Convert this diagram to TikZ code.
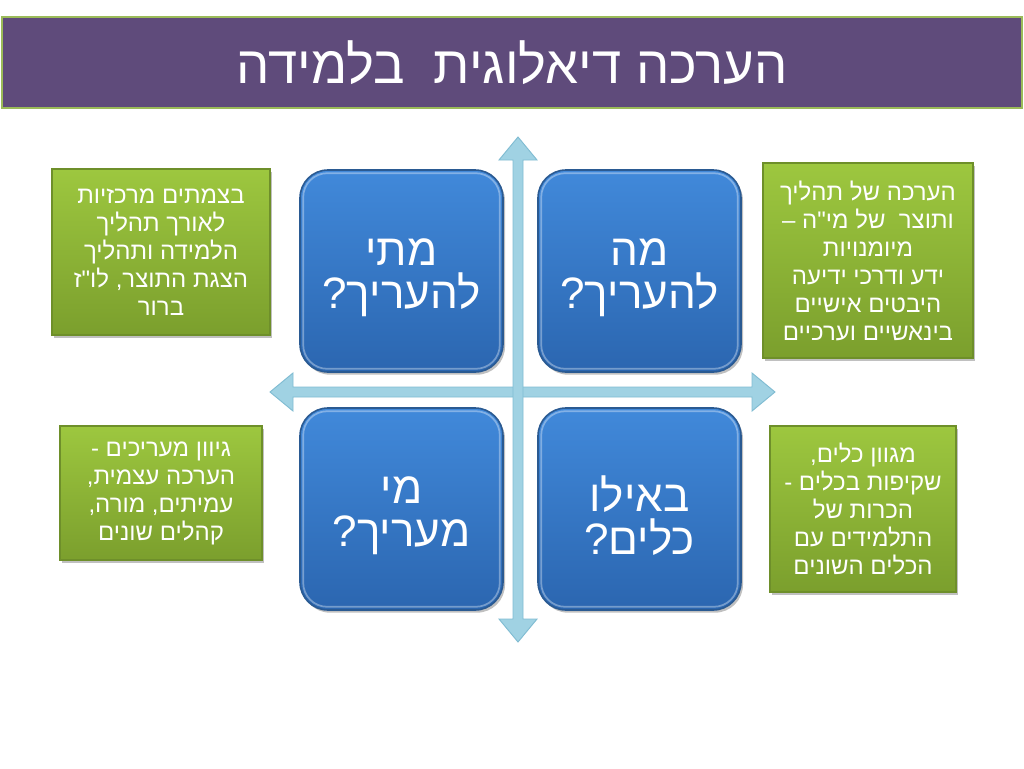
\documentclass[tikz,border=0pt]{standalone}
\usepackage{fontspec}
\setmainfont{Liberation Sans}
\newfontfamily\heb[Script=Hebrew]{Liberation Sans}
\TeXXeTstate=1
\usetikzlibrary{shadows}
\newcommand{\rl}[1]{\beginR #1\endR}
\definecolor{titlepurple}{HTML}{5F4B7B}
\definecolor{titlerim}{HTML}{9BBB59}
\definecolor{bluetop}{HTML}{4189DA}
\definecolor{bluebot}{HTML}{2B66B0}
\definecolor{bluerim}{HTML}{2A5A92}
\definecolor{greentop}{HTML}{9DC73F}
\definecolor{greenbot}{HTML}{7B9F2D}
\definecolor{greenrim}{HTML}{6E8F2A}
\definecolor{axisfill}{HTML}{A0D2E3}
\definecolor{axisrim}{HTML}{80BCD2}
\tikzset{
  titlebox/.style={draw=titlerim, line width=2.2pt, fill=titlepurple, text=white,
    minimum width=765pt, minimum height=68.25pt, inner sep=0pt,
    font=\heb\fontsize{39.5pt}{42pt}\selectfont},
  qbox/.style={draw=bluerim, line width=1.2pt, top color=bluetop, bottom color=bluebot,
    rounded corners=21pt, minimum width=152.25pt, minimum height=151.5pt, inner sep=0pt,
    drop shadow={shadow xshift=1.5pt, shadow yshift=-2pt, opacity=0.35, fill=black!70}},
  qtext/.style={inner sep=0pt, text=white, align=center,
    font=\heb\fontsize{33pt}{32.5pt}\selectfont},
  gloss/.style={draw=white, draw opacity=0.35, line width=1.3pt, rounded corners=18pt},
  notebox/.style={draw=greenrim, line width=0.8pt, top color=greentop, bottom color=greenbot,
    inner sep=0pt, text=white, align=center, font=\heb\fontsize{18pt}{21pt}\selectfont,
    drop shadow={shadow xshift=1.5pt, shadow yshift=-2pt, opacity=0.35, fill=black!70}},
  axis/.style={fill=axisfill, draw=axisrim, line width=0.7pt, line join=miter}
}
\begin{document}
\begin{tikzpicture}[x=0.75pt,y=-0.75pt]
\useasboundingbox[fill=white] (0,0) rectangle (1024,768);
% title
\node[titlebox] (title) at (512,62.5) {\rl{הערכה דיאלוגית~~בלמידה}};
% axes
\draw[axis] (270,392) -- (293,373) -- (293,387) -- (752,387) -- (752,373) -- (775,392)
  -- (752,411) -- (752,397) -- (293,397) -- (293,411) -- cycle;
\draw[axis] (518,137) -- (537,160) -- (523,160) -- (523,619) -- (537,619) -- (518,642)
  -- (499,619) -- (513,619) -- (513,160) -- (499,160) -- cycle;
% question boxes
\node[qbox] (when) at (401.5,271) {};
\node[qbox] (what) at (639.5,271) {};
\node[qbox] (who) at (401.5,509) {};
\node[qbox] (tools) at (639.5,509) {};
\foreach \b in {when,what,who,tools}
  \draw[gloss] ([shift={(4,4)}]\b.north west) rectangle ([shift={(-4,-4)}]\b.south east);
\node[qtext] (whentext) at ([yshift=-5pt]when.center) {\rl{מתי}\\\rl{להעריך?}};
\node[qtext] (whattext) at ([yshift=-5pt]what.center) {\rl{מה}\\\rl{להעריך?}};
\node[qtext] (whotext) at ([yshift=-5pt]who.center) {\rl{מי}\\\rl{מעריך?}};
\node[qtext] (toolstext) at ([yshift=-5pt]tools.center) {\rl{באילו}\\\rl{כלים?}};
% note boxes
\node[notebox, minimum width=163.5pt, minimum height=124.5pt] (nwhen) at (161,252)
  {\rl{בצמתים מרכזיות}\\\rl{לאורך תהליך}\\\rl{הלמידה ותהליך}\\\rl{הצגת התוצר, לו"ז}\\\rl{ברור}};
\node[notebox, minimum width=157.5pt, minimum height=146.25pt] (nwhat) at (868,260.5)
  {\rl{הערכה של תהליך}\\\rl{ותוצר~~של מי"ה –}\\\rl{מיומנויות}\\\rl{ידע ודרכי ידיעה}\\\rl{היבטים אישיים}\\\rl{בינאשיים וערכיים}};
\node[notebox, minimum width=151.5pt, minimum height=100.5pt] (nwho) at (161,493)
  {\rl{גיוון מעריכים -}\\\rl{הערכה עצמית,}\\\rl{עמיתים, מורה,}\\\rl{קהלים שונים}};
\node[notebox, minimum width=139.5pt, minimum height=124.5pt] (ntools) at (863,509)
  {\rl{מגוון כלים,}\\\rl{שקיפות בכלים -}\\\rl{הכרות של}\\\rl{התלמידים עם}\\\rl{הכלים השונים}};
\end{tikzpicture}
\end{document}
